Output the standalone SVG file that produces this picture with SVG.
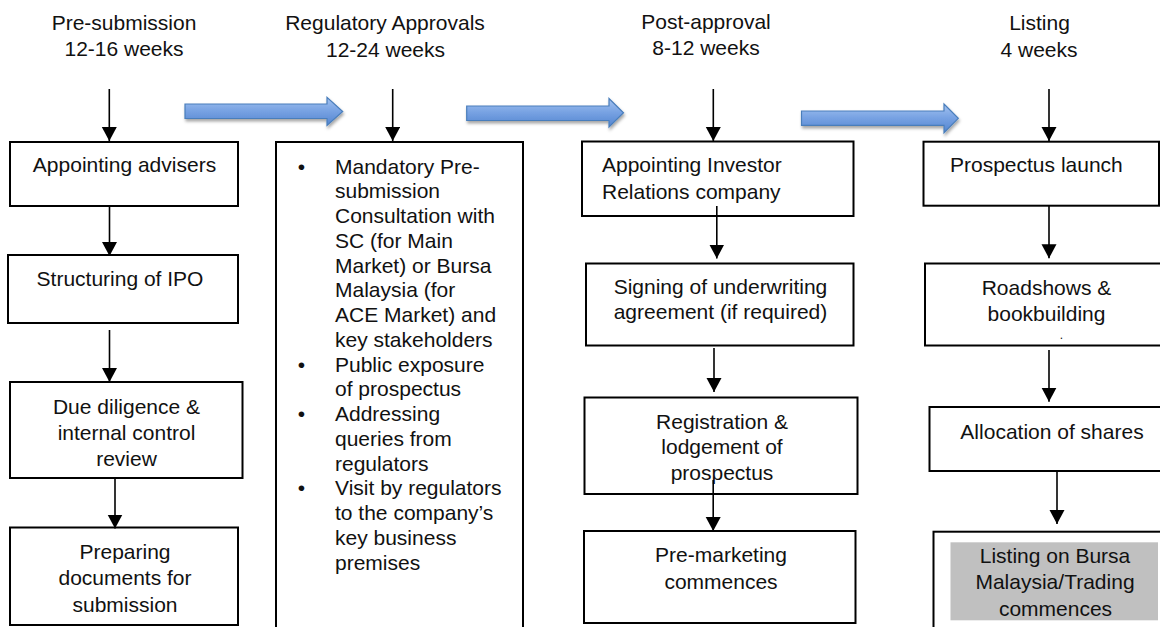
<svg xmlns="http://www.w3.org/2000/svg" width="1160" height="627" viewBox="0 0 1160 627">
<style>
text{font-family:"Liberation Sans",Arial,sans-serif;font-size:21px;fill:#111}
.c{text-anchor:middle}
.box{fill:#fff;stroke:#000;stroke-width:2}
.ln{stroke:#000;stroke-width:1.6;fill:none;marker-end:url(#ah)}
.blue{fill:url(#bg);stroke:#4a7ebb;stroke-width:1.2;filter:url(#sh)}
</style>
<defs>
<marker id="ah" markerUnits="userSpaceOnUse" markerWidth="16" markerHeight="16" refX="14" refY="7.5" orient="auto">
<path d="M0,0 L14,7.5 L0,15 z" fill="#000"/>
</marker>
<linearGradient id="bg" x1="0" y1="0" x2="0" y2="1">
<stop offset="0" stop-color="#a3c2f0"/>
<stop offset="0.5" stop-color="#76a1e2"/>
<stop offset="1" stop-color="#5385d0"/>
</linearGradient>
<filter id="sh" x="-10%" y="-40%" width="120%" height="200%">
<feDropShadow dx="1" dy="2.5" stdDeviation="1.8" flood-color="#000" flood-opacity="0.35"/>
</filter>
</defs>

<g id="headers">
<text class="c" x="124" y="29.5">Pre-submission</text>
<text class="c" x="124" y="55.5">12-16 weeks</text>
<text class="c" x="385" y="30">Regulatory Approvals</text>
<text class="c" x="385.5" y="56.5">12-24 weeks</text>
<text class="c" x="706" y="28.5">Post-approval</text>
<text class="c" x="706" y="54.5">8-12 weeks</text>
<text class="c" x="1039.5" y="30">Listing</text>
<text class="c" x="1039" y="56.5">4 weeks</text>
</g>

<g id="n-advisers"><rect class="box" x="10" y="142" width="228" height="64"/><text class="c" x="124.5" y="171.5">Appointing advisers</text></g>
<g id="n-structuring"><rect class="box" x="8" y="255" width="230" height="68"/><text class="c" x="120" y="286">Structuring of IPO</text></g>
<g id="n-diligence"><rect class="box" x="10" y="382" width="232.5" height="96"/>
<text class="c" x="126.5" y="414">Due diligence &amp;</text><text class="c" x="126.5" y="440">internal control</text><text class="c" x="126.5" y="466">review</text></g>
<g id="n-preparing"><rect class="box" x="10" y="527.5" width="228" height="97.5"/>
<text class="c" x="125" y="558.5">Preparing</text><text class="c" x="125" y="585">documents for</text><text class="c" x="125" y="611.5">submission</text></g>

<g id="n-regulatory"><rect class="box" x="276" y="142" width="247" height="500"/>
<text class="c" x="301.5" y="173.5">•</text>
<text class="c" x="301.5" y="371.5">•</text>
<text class="c" x="301.5" y="421">•</text>
<text class="c" x="301.5" y="495.25">•</text>
<text x="335" y="173.5">Mandatory Pre-</text>
<text x="335" y="198.25">submission</text>
<text x="335" y="223">Consultation with</text>
<text x="335" y="247.75">SC (for Main</text>
<text x="335" y="272.5">Market) or Bursa</text>
<text x="335" y="297.25">Malaysia (for</text>
<text x="335" y="322">ACE Market) and</text>
<text x="335" y="346.75">key stakeholders</text>
<text x="335" y="371.5">Public exposure</text>
<text x="335" y="396.25">of prospectus</text>
<text x="335" y="421">Addressing</text>
<text x="335" y="445.75">queries from</text>
<text x="335" y="470.5">regulators</text>
<text x="335" y="495.25">Visit by regulators</text>
<text x="335" y="520">to the company’s</text>
<text x="335" y="544.75">key business</text>
<text x="335" y="569.5">premises</text>
</g>

<g id="n-investor"><rect class="box" x="582" y="141.5" width="271.5" height="74.5"/>
<text x="602" y="171.5">Appointing Investor</text><text x="602" y="199">Relations company</text></g>
<g id="n-underwriting"><rect class="box" x="586" y="263.5" width="267.5" height="82"/>
<text class="c" x="720.5" y="294">Signing of underwriting</text><text class="c" x="720.5" y="319">agreement (if required)</text></g>
<g id="n-registration"><rect class="box" x="584.5" y="397.5" width="273" height="96.5"/>
<text class="c" x="722" y="428.5">Registration &amp;</text><text class="c" x="722" y="454">lodgement of</text><text class="c" x="722" y="480">prospectus</text></g>
<g id="n-premarketing"><rect class="box" x="584" y="531" width="271.5" height="92"/>
<text class="c" x="721" y="561.5">Pre-marketing</text><text class="c" x="721" y="588.5">commences</text></g>

<g id="n-launch"><rect class="box" x="923.5" y="141.7" width="235.5" height="64"/><text x="950" y="171.5">Prospectus launch</text></g>
<g id="n-roadshows"><rect class="box" x="925" y="263.5" width="245" height="82"/>
<text class="c" x="1046.5" y="295">Roadshows &amp;</text><text class="c" x="1046.5" y="320.5">bookbuilding</text><text class="c" x="1061.5" y="339" style="font-size:12px">.</text></g>
<g id="n-allocation"><rect class="box" x="929.5" y="407" width="240" height="64"/><text class="c" x="1052" y="439">Allocation of shares</text></g>
<g id="n-listing"><rect class="box" x="933.5" y="531.7" width="240" height="120"/>
<rect x="950.5" y="542.3" width="207.5" height="78" fill="#c0c0c0"/>
<text class="c" x="1055" y="563">Listing on Bursa</text><text class="c" x="1055" y="589.3">Malaysia/Trading</text><text class="c" x="1055.5" y="615.5">commences</text></g>

<g id="connectors">
<path class="blue" d="M185,104 L327,104 L327,97.3 L342.7,111.5 L327,125.5 L327,118.5 L185,118.5 Z"/>
<path class="blue" d="M466.7,106 L609,106 L609,98.5 L623.5,112.8 L609,127 L609,120.5 L466.7,120.5 Z"/>
<path class="blue" d="M801.5,111 L944,111 L944,104 L958.3,118.3 L944,132.7 L944,125.3 L801.5,125.3 Z"/>
<line class="ln" x1="109.3" y1="89" x2="109.3" y2="141"/>
<line class="ln" x1="109.5" y1="206" x2="109.5" y2="256"/>
<line class="ln" x1="109.5" y1="330" x2="109.5" y2="382"/>
<line class="ln" x1="115" y1="478" x2="115" y2="528.5"/>
<line class="ln" x1="392.7" y1="89" x2="392.7" y2="141"/>
<line class="ln" x1="713.3" y1="89" x2="713.3" y2="141"/>
<line class="ln" x1="716.8" y1="206" x2="716.8" y2="258.5"/>
<line class="ln" x1="714" y1="348" x2="714" y2="392"/>
<line class="ln" x1="713.2" y1="480" x2="713.2" y2="531"/>
<line class="ln" x1="1049" y1="89" x2="1049" y2="141"/>
<line class="ln" x1="1049" y1="206" x2="1049" y2="258.3"/>
<line class="ln" x1="1049" y1="350" x2="1049" y2="401.7"/>
<line class="ln" x1="1057" y1="471" x2="1057" y2="524"/>
</g>
</svg>
